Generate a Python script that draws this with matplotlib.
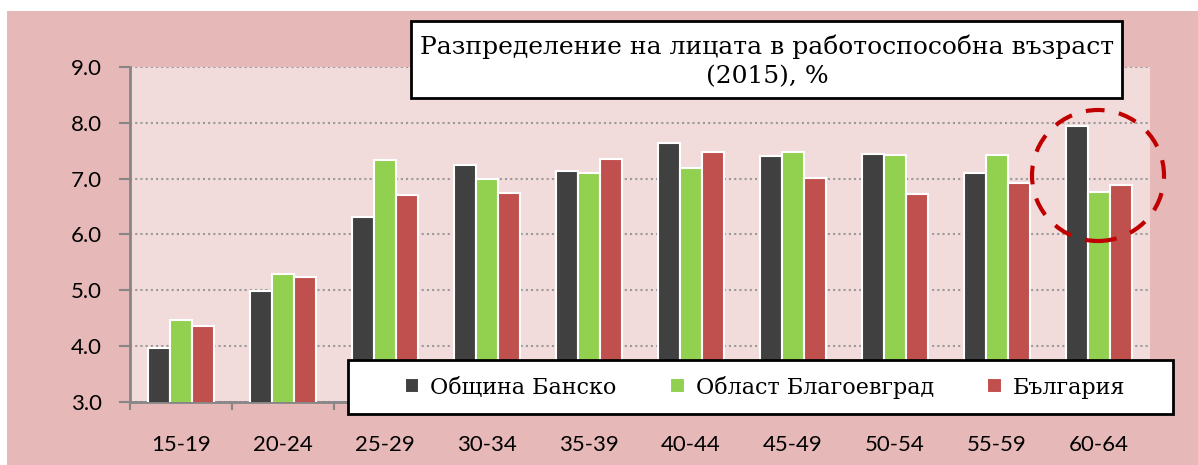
import matplotlib
matplotlib.use("Agg")
import matplotlib.pyplot as plt
import numpy as np
from matplotlib.patches import Rectangle, Ellipse

# Data
groups = ["15-19", "20-24", "25-29", "30-34", "35-39",
          "40-44", "45-49", "50-54", "55-59", "60-64"]
bansko = [3.96, 4.99, 6.32, 7.24, 7.14, 7.64, 7.40, 7.44, 7.10, 7.94]
blagoevgrad = [4.47, 5.30, 7.33, 6.99, 7.10, 7.19, 7.48, 7.42, 7.43, 6.77]
bulgaria = [4.36, 5.23, 6.70, 6.74, 7.36, 7.48, 7.02, 6.73, 6.92, 6.88]
series_names = ["Община Банско", "Област Благоевград", "България"]
title = "Разпределение на лицата в работоспособна възраст\n(2015), %"

# Colours
c_dark = "#404040"
c_green = "#92D050"
c_red = "#C0504D"
outer_bg = "#E6B8B7"
inner_bg = "#F2DCDB"

W, H = 1198, 465
fig = plt.figure(figsize=(W / 100, H / 100), dpi=100)
fig.patch.set_facecolor("white")

# outer pink panel
fig.patches.append(Rectangle((7 / W, 0), 1 - 7 / W, 1 - 11 / H,
                             transform=fig.transFigure, facecolor=outer_bg,
                             edgecolor="none", zorder=-10))

ax = fig.add_axes([130 / W, 1 - 402 / H, (1150 - 130) / W, (402 - 67) / H])
ax.set_facecolor(inner_bg)

x = np.arange(len(groups))
bw = 0.215
for i, (vals, col, name) in enumerate(zip([bansko, blagoevgrad, bulgaria],
                                           [c_dark, c_green, c_red], series_names)):
    ax.bar(x + (i - 1) * bw, vals, width=bw, color=col, edgecolor="white",
           linewidth=1.5, label=name, zorder=3)

ax.set_xlim(-0.5, len(groups) - 0.5)
ax.set_ylim(3.0, 9.0)
ax.set_yticks(np.arange(3.0, 9.01, 1.0))
ax.set_yticklabels([f"{v:.1f}" for v in np.arange(3.0, 9.01, 1.0)])
ax.yaxis.grid(True, linestyle=(0, (1, 1.5)), color="#999999", linewidth=1.5, zorder=1)
ax.set_axisbelow(True)

# x ticks at boundaries, labels centered
ax.set_xticks(np.arange(-0.5, len(groups) + 0.5, 1.0))
ax.set_xticklabels([])
ax.set_xticks(x, minor=True)
ax.set_xticklabels(groups, minor=True)
ax.tick_params(axis="x", which="minor", length=0, pad=24, labelsize=16)
ax.tick_params(axis="x", which="major", length=6, width=1.5, color="#868686")
ax.tick_params(axis="y", length=8, width=1.5, color="#868686", labelsize=16, pad=12)
for lab in ax.get_xticklabels(minor=True) + ax.get_yticklabels():
    lab.set_fontfamily("Lato")

for s in ["top", "right"]:
    ax.spines[s].set_visible(False)
for s in ["left", "bottom"]:
    ax.spines[s].set_color("#868686")
    ax.spines[s].set_linewidth(2)

# title box
fig.patches.append(Rectangle((411 / W, 1 - 98 / H), (1122 - 411) / W, (98 - 21) / H,
                             transform=fig.transFigure, facecolor="white",
                             edgecolor="black", linewidth=2, zorder=5))
fig.text(767 / W, 1 - 61 / H, title, ha="center", va="center", fontsize=18,
         family="DejaVu Serif", linespacing=1.35, zorder=6)

# legend box
fig.patches.append(Rectangle((348 / W, 1 - 414 / H), (1173 - 348) / W, (414 - 360) / H,
                             transform=fig.transFigure, facecolor="white",
                             edgecolor="black", linewidth=2, zorder=5))
leg = fig.legend(loc="center", bbox_to_anchor=(765 / W, 1 - 387 / H), ncol=3,
                 frameon=False, handlelength=0.65, handleheight=0.65,
                 handletextpad=0.5, columnspacing=2.4,
                 prop={"family": "DejaVu Serif", "size": 16})
leg.set_zorder(6)

# highlight ellipse
fig.patches.append(Ellipse((1098 / W, 1 - 175.5 / H), 132 / W, 131 / H,
                           transform=fig.transFigure, facecolor="none",
                           edgecolor="#C00000", linewidth=3,
                           linestyle=(0, (4.5, 3.5)), zorder=7))

fig.savefig("out.png", dpi=100, facecolor=fig.get_facecolor())
